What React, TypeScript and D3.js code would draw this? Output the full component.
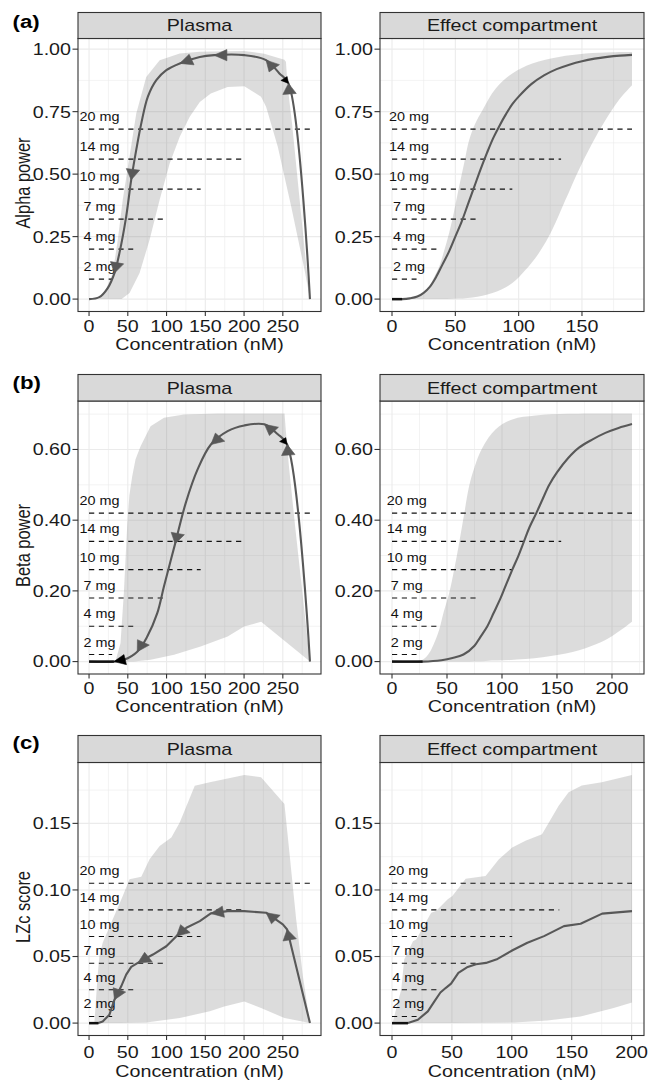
import React from "react";
import * as d3 from "d3";

type Pt = [number, number];

// ---------- shared dose annotation data ----------
const doseLabels = ["2 mg", "4 mg", "7 mg", "10 mg", "14 mg", "20 mg"];
const doseLabelX = 13.5;

const alphaDoseLevels = [0.08, 0.2, 0.32, 0.44, 0.56, 0.68];
const betaDoseLevels = [0.02, 0.1, 0.18, 0.26, 0.34, 0.42];
const lzcDoseLevels = [0.005, 0.025, 0.045, 0.065, 0.085, 0.105];

const plasmaDoseEnds = [29.8, 57, 96.7, 144, 199, 285];
const alphaEffectDoseEnds = [19.4, 35.4, 66, 95, 133.5, 189.5];
const betaEffectDoseEnds = [22.3, 40.8, 76, 110, 153.8, 218.2];
const lzcEffectDoseEnds = [20.5, 37.9, 69.8, 100.3, 139.6, 200.3];

// ---------- tick labels ----------
const plasmaXTicks = [0, 50, 100, 150, 200, 250];
const alphaEffectXTicks = [0, 50, 100, 150];
const betaEffectXTicks = [0, 50, 100, 150, 200];
const lzcEffectXTicks = [0, 50, 100, 150, 200];
const alphaYTicks = [0, 0.25, 0.5, 0.75, 1.0];
const betaYTicks = [0, 0.2, 0.4, 0.6];
const lzcYTicks = [0, 0.05, 0.1, 0.15];

// ---------- (a) Alpha power ----------
const alphaPlasmaMedian: Pt[] = [
  [285, 0], [257.3, 0.863], [245.6, 0.903], [228.4, 0.956], [200.3, 0.976], [161.4, 0.976],
  [142.9, 0.969], [117, 0.943], [99.7, 0.916], [86.8, 0.876], [75.9, 0.81], [67.4, 0.703],
  [60.9, 0.597], [54.4, 0.477], [47.9, 0.33], [39.2, 0.184], [32.8, 0.104], [24.1, 0.044],
  [13.3, 0.008], [0, 0],
];
const alphaPlasmaOuter: Pt[] = [
  [13, 0], [22, 0.04], [30.6, 0.104], [37.1, 0.237], [43.5, 0.397], [52.2, 0.57], [60.9, 0.743],
  [73.8, 0.889], [91.1, 0.956], [117, 0.983], [142.9, 0.99], [200, 0.993], [226, 0.982],
  [252, 0.958], [254, 0.95], [256, 0.86], [262, 0.7], [270, 0.45], [278, 0.2], [285, 0],
];
const alphaPlasmaInner: Pt[] = [
  [278, 0.117], [260.8, 0.37], [243.5, 0.61], [228.4, 0.77], [221.9, 0.81], [200.3, 0.852],
  [178.8, 0.849], [157.1, 0.823], [142.9, 0.789], [129.9, 0.73], [117, 0.65], [104, 0.543],
  [91.1, 0.397], [78.1, 0.237], [65.2, 0.104], [52.2, 0.024], [42, 0],
];
const alphaPlasmaArrows = [1, 3, 5, 7, 13, 16];

const alphaEffectMedian: Pt[] = [
  [0, 0], [8, 0], [14, 0.003], [20, 0.01], [25, 0.025], [30, 0.05], [35, 0.09], [40, 0.14],
  [45, 0.19], [50, 0.25], [55, 0.31], [60, 0.38], [65, 0.45], [70, 0.52], [75, 0.585],
  [80, 0.645], [85, 0.695], [90, 0.74], [95, 0.78], [100, 0.81], [110, 0.86], [120, 0.895],
  [130, 0.92], [140, 0.938], [150, 0.952], [160, 0.962], [170, 0.969], [180, 0.974], [189.5, 0.977],
];
const alphaEffectUpper: Pt[] = [
  [0, 0], [12, 0.002], [18.9, 0.006], [24, 0.02], [29.4, 0.05], [33, 0.085], [37.3, 0.13],
  [41, 0.19], [45.1, 0.264], [49, 0.35], [53, 0.45], [57, 0.545], [60.9, 0.636], [65.5, 0.7],
  [71.4, 0.756], [81.9, 0.843], [95, 0.903], [110.8, 0.943], [131.8, 0.969], [152.8, 0.983],
  [173.8, 0.988], [189.5, 0.989],
];
const alphaEffectLower: Pt[] = [
  [189.5, 0.856], [179, 0.796], [168.5, 0.716], [158, 0.623], [147.5, 0.517], [137, 0.397],
  [126.5, 0.277], [116, 0.184], [105.5, 0.117], [95, 0.064], [79.3, 0.024], [63.5, 0.006],
  [47.8, 0.001], [30, 0], [0, 0],
];

// ---------- (b) Beta power ----------
const betaPlasmaMedian: Pt[] = [
  [285, 0], [255.6, 0.614], [243.5, 0.643], [226.3, 0.671], [200.3, 0.668], [178.8, 0.652],
  [157.2, 0.614], [139.9, 0.543], [124.8, 0.449], [111, 0.333], [96.7, 0.213], [88, 0.137],
  [75.1, 0.071], [62.2, 0.028], [44.9, 0.005], [32, 0], [0, 0],
];
const betaPlasmaOuter: Pt[] = [
  [34, 0], [40.6, 0.052], [44.9, 0.194], [49.2, 0.383], [52, 0.47], [55.7, 0.524], [60, 0.572],
  [66.5, 0.609], [79.4, 0.666], [96.7, 0.69], [122.6, 0.699], [165.8, 0.702], [252.2, 0.702],
  [254, 0.65], [258, 0.55], [266, 0.38], [276, 0.18], [285, 0],
];
const betaPlasmaInner: Pt[] = [
  [222, 0.113], [200, 0.099], [178.8, 0.071], [144, 0.043], [109.7, 0.019], [79.4, 0.005], [57.9, 0],
];
const betaPlasmaArrows = [1, 3, 6, 9, 13];

const betaEffectMedian: Pt[] = [
  [0, 0], [27.8, 0], [45, 0.004], [55, 0.01], [65, 0.02], [75, 0.045], [80, 0.068], [86.7, 0.1],
  [92.5, 0.138], [98.8, 0.18], [104, 0.22], [109.4, 0.26], [115, 0.3], [120, 0.34], [125, 0.38],
  [131.2, 0.42], [137, 0.46], [143, 0.5], [150, 0.535], [160, 0.575], [170, 0.605], [182, 0.628],
  [194, 0.647], [206, 0.661], [218.2, 0.672],
];
const betaEffectUpper: Pt[] = [
  [0, 0], [24.8, 0.001], [30, 0.01], [33.8, 0.024], [38, 0.05], [42.9, 0.09], [47, 0.14],
  [52, 0.194], [56.5, 0.26], [61, 0.335], [65.5, 0.415], [70.1, 0.496], [75, 0.55], [82.2, 0.605],
  [94.3, 0.657], [109.4, 0.685], [130.6, 0.696], [160.8, 0.701], [218.2, 0.702],
];
const betaEffectLower: Pt[] = [
  [218.2, 0.113], [206.1, 0.085], [194, 0.061], [175.9, 0.038], [151.7, 0.019], [121.5, 0.007],
  [85.2, 0.002], [55, 0], [0, 0],
];

// ---------- (c) LZc score ----------
const lzcPlasmaMedian: Pt[] = [
  [285, 0], [255.6, 0.0703], [250, 0.0741], [228.4, 0.0829], [200.3, 0.0841], [178.8, 0.0841],
  [157.1, 0.0824], [142.9, 0.0766], [125.6, 0.0716], [112.7, 0.0653], [99.7, 0.0577],
  [82.4, 0.0515], [62.9, 0.0452], [54.4, 0.0422], [47.9, 0.0364], [41.5, 0.0276], [32.8, 0.0176],
  [26.3, 0.0063], [17.6, 0.0012], [12, 0], [0, 0],
];
const lzcPlasmaOuter: Pt[] = [
  [6.9, 0], [11, 0.035], [13.3, 0.0502], [17.6, 0.0603], [30.6, 0.0779], [43.5, 0.0954],
  [52.2, 0.108], [67.4, 0.11], [78.1, 0.1231], [91.1, 0.1331], [106.2, 0.1394], [117, 0.1507],
  [136.4, 0.1783], [155.8, 0.1809], [200.3, 0.1864], [221.9, 0.1847], [252.1, 0.1646],
  [258.5, 0.1281], [267.2, 0.0779], [275.9, 0.0351], [285, 0],
];
const lzcPlasmaInner: Pt[] = [
  [252.1, 0.0038], [221.9, 0.0113], [200.3, 0.0163], [174.4, 0.0125], [155.8, 0.0088],
  [117, 0.0038], [73.8, 0.0005], [40, 0],
];
const lzcPlasmaArrows = [1, 3, 6, 9, 12, 16];

const lzcEffectMedian: Pt[] = [
  [0, 0], [13.3, 0], [21.6, 0.0025], [29.9, 0.0088], [35.4, 0.0163], [40.4, 0.023], [45, 0.0265],
  [49.3, 0.0296], [55.4, 0.0377], [63.2, 0.0422], [70.1, 0.0442], [78.4, 0.0452], [88.1, 0.0482],
  [100.6, 0.0547], [113, 0.0603], [126.9, 0.0653], [143.5, 0.0728], [157.4, 0.0746],
  [175.4, 0.0822], [200.3, 0.0841],
];
const lzcEffectUpper: Pt[] = [
  [0.5, 0], [4.7, 0.0151], [7.7, 0.0251], [10.2, 0.0477], [17.5, 0.0615], [20.2, 0.0628],
  [32.7, 0.0829], [36.8, 0.0841], [46.5, 0.093], [50.4, 0.0954], [61.5, 0.1085], [78.1, 0.1105],
  [89.2, 0.1231], [100.3, 0.1319], [111.4, 0.1369], [125.2, 0.1419], [139.1, 0.1633],
  [147.4, 0.1734], [158.4, 0.1784], [175.1, 0.1809], [200.3, 0.1864],
];
const lzcEffectLower: Pt[] = [
  [200.3, 0.0155], [185, 0.0113], [157.4, 0.005], [129.7, 0.002], [101.9, 0.0005], [50, 0], [0, 0],
];

// ---------- layout & style ----------
const FONT = "'Liberation Sans', Arial, Helvetica, sans-serif";
const SX = 1.2; // horizontal stretch of the source figure
const FS = 16.4;
const LINE_COL = "#585858";
const BORDER = "#333333";
const GRID = "#EBEBEB";

interface PanelSpec {
  title: string; x0: number; x1: number; xTicks: number[]; median: Pt[]; outer: Pt[]; inner: Pt[];
  doseEnds: number[]; arrows: number[]; blackTips: number[]; smooth: boolean; ribbonSmooth: boolean;
}
interface RowSpec {
  letter: string; letterBase: number; yTitle: string; stripTop: number; panelTop: number;
  panelBottom: number; tickBase: number; titleBase: number; yTicks: number[]; doseLevels: number[];
  panels: PanelSpec[];
}

const LEFT = { x0: 78, x1: 321 };
const RIGHT = { x0: 380, x1: 644 };

const rows: RowSpec[] = [
  {
    letter: "(a)", letterBase: 28, yTitle: "Alpha power",
    stripTop: 12.5, panelTop: 38.5, panelBottom: 311.5, tickBase: 332, titleBase: 350,
    yTicks: alphaYTicks, doseLevels: alphaDoseLevels,
    panels: [
      { title: "Plasma", ...LEFT, xTicks: plasmaXTicks, median: alphaPlasmaMedian, outer: alphaPlasmaOuter,
        inner: alphaPlasmaInner, doseEnds: plasmaDoseEnds, arrows: alphaPlasmaArrows, blackTips: [1],
        smooth: true, ribbonSmooth: false },
      { title: "Effect compartment", ...RIGHT, xTicks: alphaEffectXTicks, median: alphaEffectMedian,
        outer: alphaEffectUpper, inner: alphaEffectLower, doseEnds: alphaEffectDoseEnds, arrows: [],
        blackTips: [], smooth: true, ribbonSmooth: true },
    ],
  },
  {
    letter: "(b)", letterBase: 389, yTitle: "Beta power",
    stripTop: 374.5, panelTop: 401, panelBottom: 674, tickBase: 694, titleBase: 712,
    yTicks: betaYTicks, doseLevels: betaDoseLevels,
    panels: [
      { title: "Plasma", ...LEFT, xTicks: plasmaXTicks, median: betaPlasmaMedian, outer: betaPlasmaOuter,
        inner: betaPlasmaInner, doseEnds: plasmaDoseEnds, arrows: betaPlasmaArrows, blackTips: [1, 15],
        smooth: true, ribbonSmooth: false },
      { title: "Effect compartment", ...RIGHT, xTicks: betaEffectXTicks, median: betaEffectMedian,
        outer: betaEffectUpper, inner: betaEffectLower, doseEnds: betaEffectDoseEnds, arrows: [],
        blackTips: [], smooth: true, ribbonSmooth: true },
    ],
  },
  {
    letter: "(c)", letterBase: 749, yTitle: "LZc score",
    stripTop: 735.5, panelTop: 762.5, panelBottom: 1035.5, tickBase: 1058, titleBase: 1076.5,
    yTicks: lzcYTicks, doseLevels: lzcDoseLevels,
    panels: [
      { title: "Plasma", ...LEFT, xTicks: plasmaXTicks, median: lzcPlasmaMedian, outer: lzcPlasmaOuter,
        inner: lzcPlasmaInner, doseEnds: plasmaDoseEnds, arrows: lzcPlasmaArrows, blackTips: [],
        smooth: false, ribbonSmooth: false },
      { title: "Effect compartment", ...RIGHT, xTicks: lzcEffectXTicks, median: lzcEffectMedian,
        outer: lzcEffectUpper, inner: lzcEffectLower, doseEnds: lzcEffectDoseEnds, arrows: [],
        blackTips: [], smooth: false, ribbonSmooth: false },
    ],
  },
];

// ---------- helpers ----------
function Txt(props: {
  x: number; y: number; size?: number; anchor?: string; weight?: string | number;
  rotate?: number; fill?: string; children: React.ReactNode;
}) {
  const { x, y, size = FS, anchor = "start", weight = "normal", rotate, fill = "#1a1a1a", children } = props;
  const tr = `translate(${x},${y}) scale(${SX},1)` + (rotate ? ` rotate(${rotate})` : "");
  return (
    <text transform={tr} fontSize={size} textAnchor={anchor as any} fontWeight={weight as any} fill={fill} fontFamily={FONT}>
      {children}
    </text>
  );
}

function minorTicks(ticks: number[], dom: [number, number]) {
  const step = ticks[1] - ticks[0];
  const out: number[] = [];
  for (let v = ticks[0] - step / 2; v <= dom[1] + 1e-9; v += step) {
    if (v >= dom[0]) out.push(v);
  }
  return out;
}

function head(tip: Pt, from: Pt, L: number, angDeg: number) {
  let dx = (tip[0] - from[0]) / SX;
  let dy = tip[1] - from[1];
  const len = Math.hypot(dx, dy) || 1;
  dx /= len;
  dy /= len;
  const a = (angDeg * Math.PI) / 180;
  const bx = -dx, by = -dy;
  const p = (s: number): Pt => {
    const c = Math.cos(s * a), sn = Math.sin(s * a);
    return [tip[0] + L * (bx * c - by * sn) * SX, tip[1] + L * (bx * sn + by * c)];
  };
  const p1 = p(1), p2 = p(-1);
  return `M${tip[0]},${tip[1]}L${p1[0]},${p1[1]}L${p2[0]},${p2[1]}Z`;
}

function Panel({ spec, row, y }: { spec: PanelSpec; row: RowSpec; y: d3.ScaleLinear<number, number> }) {
  const all = [...spec.median, ...spec.outer, ...spec.inner];
  const xMax = Math.max(d3.max(all, (d) => d[0]) || 0, d3.max(spec.doseEnds) || 0);
  const xDom: [number, number] = [-0.05 * xMax, 1.05 * xMax];
  const x = d3.scaleLinear().domain(xDom).range([spec.x0, spec.x1]);
  const yDom = y.domain() as [number, number];
  const { panelTop: pt, panelBottom: pb, stripTop: st } = row;

  const lineGen = d3.line<Pt>().x((d) => x(d[0])).y((d) => y(d[1]))
    .curve(spec.smooth ? d3.curveCatmullRom.alpha(0.5) : d3.curveLinear);
  const ribGen = d3.line<Pt>().x((d) => x(d[0])).y((d) => y(d[1]))
    .curve(spec.ribbonSmooth ? d3.curveCatmullRom.alpha(0.5) : d3.curveLinear);
  const ribbon = (ribGen(spec.outer) || "") + (ribGen(spec.inner) || "").replace(/^M/, "L") + "Z";

  const xMinor = minorTicks(spec.xTicks, xDom);
  const yMinor = minorTicks(row.yTicks, yDom);
  const fmtY = d3.format(".2f");

  const zeroSegs: [Pt, Pt][] = [];
  for (let i = 1; i < spec.median.length; i++) {
    if (spec.median[i][1] === 0 && spec.median[i - 1][1] === 0) zeroSegs.push([spec.median[i - 1], spec.median[i]]);
  }
  const px = (d: Pt): Pt => [x(d[0]), y(d[1])];

  return (
    <g>
      <rect x={spec.x0} y={pt} width={spec.x1 - spec.x0} height={pb - pt} fill="#fff" />
      {xMinor.map((v) => (
        <line key={"xm" + v} x1={x(v)} x2={x(v)} y1={pt} y2={pb} stroke={GRID} strokeWidth={0.6} />
      ))}
      {yMinor.map((v) => (
        <line key={"ym" + v} x1={spec.x0} x2={spec.x1} y1={y(v)} y2={y(v)} stroke={GRID} strokeWidth={0.6} />
      ))}
      {spec.xTicks.map((v) => (
        <line key={"xg" + v} x1={x(v)} x2={x(v)} y1={pt} y2={pb} stroke={GRID} strokeWidth={1.1} />
      ))}
      {row.yTicks.map((v) => (
        <line key={"yg" + v} x1={spec.x0} x2={spec.x1} y1={y(v)} y2={y(v)} stroke={GRID} strokeWidth={1.1} />
      ))}
      <path d={ribbon} fill="#7f7f7f" fillOpacity={0.27} stroke="none" />
      {row.doseLevels.map((lv, i) => (
        <g key={"dose" + i}>
          <line x1={x(0)} x2={x(spec.doseEnds[i])} y1={y(lv)} y2={y(lv)} stroke="#111" strokeWidth={1.1}
            strokeDasharray="5.2 4.6" />
          <Txt x={x(doseLabelX)} y={y(lv) - 8} size={12} anchor="middle" fill="#111">
            {doseLabels[i]}
          </Txt>
        </g>
      ))}
      <path d={lineGen(spec.median) || ""} fill="none" stroke={LINE_COL} strokeWidth={2.1} strokeLinejoin="round" />
      {zeroSegs.map((s, i) => (
        <line key={"z" + i} x1={x(s[0][0])} x2={x(s[1][0])} y1={y(s[0][1])} y2={y(s[1][1])} stroke="#111" strokeWidth={2.4} />
      ))}
      {spec.arrows.map((idx) => (
        <path key={"a" + idx} d={head(px(spec.median[idx]), px(spec.median[idx - 1]), 12, 28)} fill={LINE_COL}
          stroke={LINE_COL} strokeWidth={0.6} strokeLinejoin="round" />
      ))}
      {spec.blackTips.map((idx) => {
        const from = idx + 1 < spec.median.length && spec.median[idx][1] !== 0 ? spec.median[idx + 1] : spec.median[idx - 1];
        const big = spec.median[idx][1] === 0;
        return (
          <path key={"b" + idx} d={head(px(spec.median[idx]), px(from), big ? 11 : 7, 28)} fill="#000" stroke="#000"
            strokeWidth={0.5} />
        );
      })}
      <rect x={spec.x0} y={pt} width={spec.x1 - spec.x0} height={pb - pt} fill="none" stroke={BORDER} strokeWidth={1.1} />
      <rect x={spec.x0} y={st} width={spec.x1 - spec.x0} height={pt - st} fill="#D9D9D9" stroke={BORDER} strokeWidth={1.1} />
      <Txt x={(spec.x0 + spec.x1) / 2} y={(st + pt) / 2 + 0.36 * FS} anchor="middle">
        {spec.title}
      </Txt>
      {row.yTicks.map((v) => (
        <g key={"yt" + v}>
          <line x1={spec.x0 - 5.5} x2={spec.x0} y1={y(v)} y2={y(v)} stroke={BORDER} strokeWidth={1.1} />
          <Txt x={spec.x0 - 7} y={y(v) + 0.36 * FS} anchor="end" fill="#1a1a1a">
            {fmtY(v)}
          </Txt>
        </g>
      ))}
      {spec.xTicks.map((v) => (
        <g key={"xt" + v}>
          <line x1={x(v)} x2={x(v)} y1={pb} y2={pb + 4.5} stroke={BORDER} strokeWidth={1.1} />
          <Txt x={x(v)} y={row.tickBase} anchor="middle" fill="#1a1a1a">
            {String(v)}
          </Txt>
        </g>
      ))}
      <Txt x={(spec.x0 + spec.x1) / 2} y={row.titleBase} anchor="middle">
        Concentration (nM)
      </Txt>
    </g>
  );
}

function Row({ row }: { row: RowSpec }) {
  const yMax = d3.max(row.panels.flatMap((p) => [...p.outer, ...p.median]), (d) => d[1]) || 1;
  const y = d3.scaleLinear().domain([-0.05 * yMax, 1.05 * yMax]).range([row.panelBottom, row.panelTop]);
  return (
    <g>
      {row.panels.map((p, i) => (
        <Panel key={i} spec={p} row={row} y={y} />
      ))}
      <Txt x={30} y={(row.panelTop + row.panelBottom) / 2 + 8} anchor="middle" rotate={-90}>
        {row.yTitle}
      </Txt>
      <Txt x={12.5} y={row.letterBase} size={18.5} weight="bold" fill="#000">
        {row.letter}
      </Txt>
    </g>
  );
}

export default function App() {
  return (
    <svg width={648} height={1080} style={{ position: "absolute", left: 0, top: 0, display: "block" }}>
      <rect x={0} y={0} width={648} height={1080} fill="#fff" />
      {rows.map((r) => (
        <Row key={r.letter} row={r} />
      ))}
    </svg>
  );
}
